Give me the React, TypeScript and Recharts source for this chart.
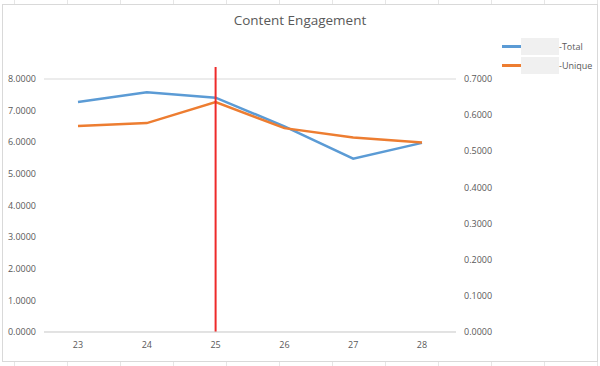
import React from "react";
import {
  CartesianGrid,
  Line,
  LineChart,
  ReferenceLine,
  XAxis,
  YAxis,
} from "recharts";

// values
const weeks = ["23", "24", "25", "26", "27", "28"];
const totalValues = [7.27, 7.58, 7.41, 6.5, 5.48, 5.98];
const uniqueValues = [0.57, 0.578, 0.636, 0.564, 0.538, 0.524];
const leftTicks = [0, 1, 2, 3, 4, 5, 6, 7, 8];
const rightTicks = [0, 0.1, 0.2, 0.3, 0.4, 0.5, 0.6, 0.7];
const markerWeek = "25";

const BLUE = "#5b9bd5";
const ORANGE = "#ed7d31";
const TEXT = "#595959";
const GRID = "#d9d9d9";
const FONT = "'Open Sans', sans-serif";

const data = weeks.map((w, i) => ({
  week: w,
  total: totalValues[i],
  unique: uniqueValues[i],
}));

const legendItems = [
  { name: "Total", color: BLUE },
  { name: "Unique", color: ORANGE },
];

// spreadsheet cell borders peeking out above / below the chart frame
const cellLines = [14, 67, 120, 173, 226, 279, 332, 385, 438, 491, 544, 597];

export default function App() {
  return (
    <div
      style={{
        position: "absolute",
        left: 0,
        top: 0,
        width: 600,
        height: 366,
        background: "#fff",
        overflow: "hidden",
      }}
    >
      {cellLines.map((x) => (
        <React.Fragment key={x}>
          <div
            style={{ position: "absolute", left: x, top: 0, width: 1, height: 5, background: "#e6e6e6" }}
          />
          <div
            style={{ position: "absolute", left: x, top: 362, width: 1, height: 4, background: "#e6e6e6" }}
          />
        </React.Fragment>
      ))}
      <div
        style={{
          position: "absolute",
          left: 2,
          top: 4,
          width: 596,
          height: 358,
          border: "1px solid #d9d9d9",
          boxSizing: "border-box",
        }}
      />
      <div
        style={{
          position: "absolute",
          left: 0,
          top: 11,
          width: 600,
          textAlign: "center",
          fontFamily: FONT,
          fontSize: 13.5,
          color: TEXT,
        }}
      >
        Content Engagement
      </div>
      {/* legend, drawn outside the chart so it does not eat plot space */}
      <div
        style={{
          position: "absolute",
          left: 502,
          top: 37,
          fontFamily: FONT,
          fontSize: 9,
          color: TEXT,
        }}
      >
        {legendItems.map((it) => (
          <div
            key={it.name}
            style={{ display: "flex", alignItems: "center", height: 19 }}
          >
            <span
              style={{
                display: "inline-block",
                width: 19,
                height: 2.5,
                background: it.color,
              }}
            />
            {/* blurred-out series prefix */}
            <span
              style={{
                display: "inline-block",
                width: 38,
                height: 17,
                background: "#f0f0f0",
              }}
            />
            <span>-{it.name}</span>
          </div>
        ))}
      </div>
      <div style={{ position: "absolute", left: 0, top: 0 }}>
        <LineChart
          width={600}
          height={366}
          data={data}
          margin={{ top: 79, right: 94, bottom: 10, left: 0 }}
        >
          <CartesianGrid vertical={false} stroke={GRID} strokeWidth={1} />
          <XAxis
            dataKey="week"
            height={24}
            padding={{ left: 34, right: 34 }}
            axisLine={{ stroke: GRID }}
            tickLine={false}
            tickMargin={4}
            tick={{ fill: TEXT, fontSize: 9, fontFamily: FONT }}
          />
          <YAxis
            yAxisId="left"
            width={44}
            domain={[0, 8]}
            ticks={leftTicks}
            axisLine={false}
            tickLine={false}
            tickFormatter={(v: number) => v.toFixed(4)}
            tick={{ fill: TEXT, fontSize: 9, fontFamily: FONT }}
          />
          <YAxis
            yAxisId="right"
            orientation="right"
            width={50}
            domain={[0, 0.7]}
            ticks={rightTicks}
            axisLine={false}
            tickLine={false}
            tickFormatter={(v: number) => v.toFixed(4)}
            tick={{ fill: TEXT, fontSize: 9, fontFamily: FONT, textAnchor: "start" }}
          />
          <Line
            yAxisId="left"
            dataKey="total"
            name="Total"
            stroke={BLUE}
            strokeWidth={2.5}
            dot={false}
            isAnimationActive={false}
          />
          <Line
            yAxisId="right"
            dataKey="unique"
            name="Unique"
            stroke={ORANGE}
            strokeWidth={2.5}
            dot={false}
            isAnimationActive={false}
          />
          <ReferenceLine
            yAxisId="left"
            segment={[
              { x: markerWeek, y: 0 },
              { x: markerWeek, y: 8.38 },
            ]}
            ifOverflow="visible"
            stroke="#ee2a2a"
            strokeWidth={2}
          />
        </LineChart>
      </div>
    </div>
  );
}
